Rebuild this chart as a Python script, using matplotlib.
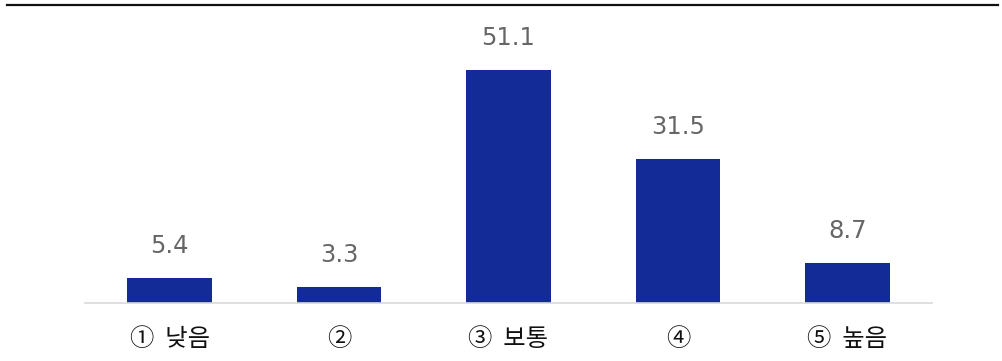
import matplotlib.pyplot as plt
from matplotlib.lines import Line2D

# response share by level (%)
categories = ['①  낮음', '②', '③  보통', '④', '⑤  높음']
values = [5.4, 3.3, 51.1, 31.5, 8.7]

plt.rcParams['font.family'] = ['Noto Sans CJK KR', 'DejaVu Sans']

fig = plt.figure(figsize=(10.03, 3.61), dpi=100)
ax = fig.add_axes([85 / 1003, 58.5 / 361, 847 / 1003, 273 / 361])

x = list(range(len(values)))
ax.bar(x, values, width=0.5, color='#122b96')

for xi, v in zip(x, values):
    ax.annotate(f'{v:.1f}', (xi, v), xytext=(0, 20), textcoords='offset pixels',
                ha='center', va='bottom', fontsize=17.5, color='#666666',
                family=['DejaVu Sans'])

ax.set_xlim(-0.5, len(values) - 0.5)
ax.set_ylim(0, 60)
ax.set_xticks(x)
ax.set_xticklabels(categories, fontsize=17.5, color='#111111')
ax.tick_params(axis='x', length=0, pad=17)
ax.set_yticks([])

for side in ['top', 'right', 'left']:
    ax.spines[side].set_visible(False)
ax.spines['bottom'].set_color('#d9d9d9')
ax.spines['bottom'].set_linewidth(1.2)

# dark rule across the top
fig.add_artist(Line2D([7 / 1003, 998 / 1003], [1 - 4.5 / 361, 1 - 4.5 / 361],
                      color='#111111', linewidth=1.6))

fig.savefig('out.png', dpi=100)
